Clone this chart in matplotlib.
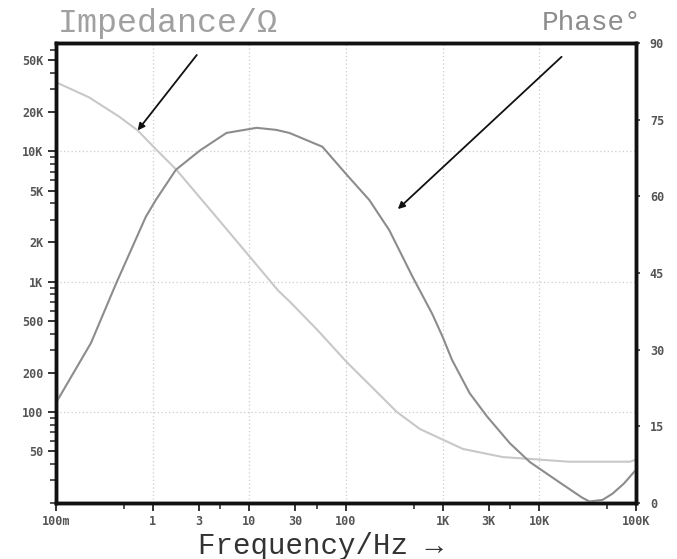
import numpy as np
import matplotlib
matplotlib.use("Agg")
import matplotlib.pyplot as plt
import matplotlib.ticker as mticker

# impedance curve (Hz, ohm)
imp_freq = [0.1, 0.22, 0.45, 0.7, 1.08, 1.74, 3.9, 10, 20, 26, 50, 102, 336, 580,
            1620, 4200, 8000, 20000, 87000, 100000]
imp_ohm = [34000, 26000, 18500, 14500, 10400, 7300, 3600, 1570, 850, 707, 430, 241,
           100, 74, 52, 45, 43.6, 41.5, 41.5, 43]

# phase curve (Hz, degrees)
ph_freq = [0.1, 0.23, 0.42, 0.85, 1.08, 1.74, 3.1, 5.8, 11.9, 19, 26, 57, 102, 174,
           280, 490, 780, 1000, 1250, 1900, 2860, 4950, 8000, 16000, 28000, 33000,
           45000, 57000, 75000, 100000]
ph_deg = [19.6, 31.3, 43.0, 56.0, 59.3, 65.2, 69, 72.4, 73.4, 73, 72.4, 69.7, 64.2,
          59.3, 53.4, 44.2, 37, 32.5, 28, 21.5, 17, 11.7, 8.0, 4.1, 1.0, 0.3, 0.6,
          1.8, 3.8, 6.5]

# axis ticks
x_major = [0.1, 1, 3, 10, 30, 100, 1000, 3000, 10000, 100000]
x_labels = ['100m', '1', '3', '10', '30', '100', '1K', '3K', '10K', '100K']
x_minor = [0.5, 5, 50, 500, 5000, 50000]
y_major = [50, 100, 200, 500, 1000, 2000, 5000, 10000, 20000, 50000]
y_labels = ['50', '100', '200', '500', '1K', '2K', '5K', '10K', '20K', '50K']
ph_ticks = [0, 15, 30, 45, 60, 75, 90]
x_grid = [1, 10, 100, 1000, 10000]
y_grid = [100, 1000, 10000]

mono = ['Liberation Mono', 'DejaVu Sans Mono']

fig = plt.figure(figsize=(6.77, 5.59), dpi=100)
ax = fig.add_axes([0.0827, 0.1002, 0.8567, 0.8229])
ax2 = ax.twinx()

ax.set_xscale('log')
ax.set_yscale('log')
ax.set_xlim(0.1, 100000)
ax.set_ylim(20, 68000)
ax2.set_ylim(0, 90)

for x in x_grid:
    ax.axvline(x, color='#cccccc', lw=0.9, ls=(0, (1, 2)), zorder=0)
for y in y_grid:
    ax.axhline(y, color='#cccccc', lw=0.9, ls=(0, (1, 2)), zorder=0)

ax.plot(imp_freq, imp_ohm, color='#c8c8c8', lw=1.5, zorder=2)
ax2.plot(ph_freq, ph_deg, color='#8c8c8c', lw=1.5, zorder=2)

# x ticks
ax.xaxis.set_major_locator(mticker.FixedLocator(x_major))
ax.xaxis.set_major_formatter(mticker.FixedFormatter(x_labels))
ax.xaxis.set_minor_locator(mticker.FixedLocator(x_minor))
ax.xaxis.set_minor_formatter(mticker.NullFormatter())

# left y ticks
ax.yaxis.set_major_locator(mticker.FixedLocator(y_major))
ax.yaxis.set_major_formatter(mticker.FixedFormatter(y_labels))
ax.yaxis.set_minor_locator(mticker.LogLocator(base=10, subs=np.arange(1, 10), numticks=20))
ax.yaxis.set_minor_formatter(mticker.NullFormatter())

ax2.set_yticks(ph_ticks)

ax.tick_params(axis='both', which='major', direction='out', length=6, width=1.4,
               color='#333333', pad=3)
ax.tick_params(axis='both', which='minor', direction='out', length=4, width=1.2,
               color='#333333')
ax2.tick_params(axis='y', direction='out', length=3, width=1.2, color='#333333', pad=7)

for lab in ax.get_xticklabels() + ax.get_yticklabels() + ax2.get_yticklabels():
    lab.set_fontfamily('DejaVu Sans Mono')
    lab.set_fontweight('bold')
    lab.set_fontsize(8.5)
    lab.set_color('#555555')

for a in (ax, ax2):
    for sp in a.spines.values():
        sp.set_linewidth(2.5)
        sp.set_color('#111111')

# arrows pointing at the curves
ax.annotate('', xy=(0.70, 14500), xytext=(2.86, 55000),
            arrowprops=dict(arrowstyle='-|>', color='#111111', lw=1.3,
                            mutation_scale=10, shrinkA=0, shrinkB=0))
ax2.annotate('', xy=(344, 57.5), xytext=(17000, 87.3),
             arrowprops=dict(arrowstyle='-|>', color='#111111', lw=1.3,
                             mutation_scale=10, shrinkA=0, shrinkB=0))

fig.text(0.085, 0.958, 'Impedance/Ω', family=mono, size=24, color='#a0a0a0',
         ha='left', va='center')
fig.text(0.947, 0.958, 'Phase°', family=mono, size=20, color='#8c8c8c',
         ha='right', va='center')
fig.text(0.473, 0.024, 'Frequency/Hz →', family=mono, size=21, color='#333333',
         ha='center', va='center')

fig.savefig('out.png', dpi=100)
